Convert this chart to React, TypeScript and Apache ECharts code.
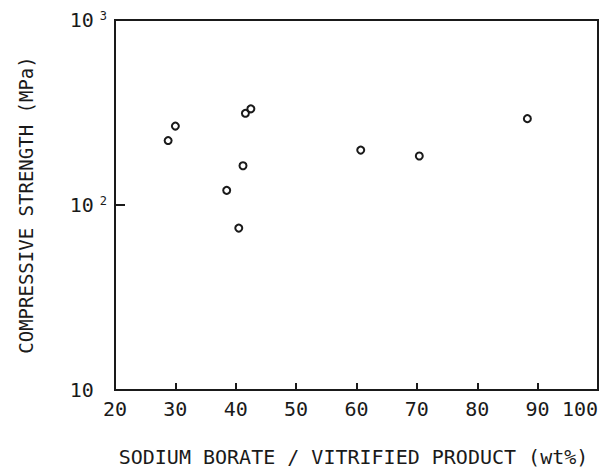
import React, { useEffect, useRef } from "react";
import * as echarts from "echarts";

const ratioWt: number[] = [30.0, 28.8, 41.6, 42.5, 41.2, 38.5, 40.5, 60.7, 70.4, 88.3];
const strengthMPa: number[] = [267, 223, 313, 331, 163, 120, 75, 198, 184, 293];
const xTicks: number[] = [20, 30, 40, 50, 60, 70, 80, 90, 100];
const yTicks: number[] = [10, 100, 1000];
const xTitle = "SODIUM BORATE / VITRIFIED PRODUCT (wt%)";
const yTitle = "COMPRESSIVE STRENGTH (MPa)";

const MONO = "'DejaVu Sans Mono', monospace";
const INK = "#1a1a1a";

export default function App() {
  const ref = useRef<HTMLDivElement>(null);
  useEffect(() => {
    if (!ref.current) return;
    const chart = echarts.init(ref.current, null, { renderer: "svg" });
    const points = ratioWt.map((x, i) => [x, strengthMPa[i]]);
    chart.setOption({
      animation: false,
      backgroundColor: "#ffffff",
      grid: {
        left: 115,
        right: 9,
        top: 20,
        bottom: 85,
        show: true,
        borderColor: INK,
        borderWidth: 2,
        backgroundColor: "transparent",
        containLabel: false,
        outerBoundsMode: "none",
      },
      xAxis: {
        type: "value",
        min: xTicks[0],
        max: xTicks[xTicks.length - 1],
        interval: 10,
        name: xTitle,
        nameLocation: "middle",
        nameGap: 57,
        nameTextStyle: { fontFamily: MONO, fontSize: 20, color: INK, padding: [0, 6, 0, 0] },
        axisLine: { show: true, lineStyle: { color: INK, width: 2 } },
        axisTick: { show: true, inside: true, length: 7, lineStyle: { color: INK, width: 2 } },
        axisLabel: { fontFamily: MONO, fontSize: 20, color: INK, margin: 9, alignMaxLabel: "right" },
        splitLine: { show: false },
      },
      yAxis: {
        type: "log",
        logBase: 10,
        min: yTicks[0],
        max: yTicks[yTicks.length - 1],
        name: yTitle,
        nameLocation: "middle",
        nameGap: 80,
        nameTextStyle: { fontFamily: MONO, fontSize: 19, color: INK },
        axisLine: { show: true, lineStyle: { color: INK, width: 2 } },
        axisTick: { show: true, inside: true, length: 10, lineStyle: { color: INK, width: 2 } },
        minorTick: { show: false },
        splitLine: { show: false },
        axisLabel: {
          margin: 8,
          formatter: (v: number) => {
            const e = Math.round(Math.log10(v));
            return e === 1 ? "{b|10}{h|0}" : "{b|10}{s|" + e + "}";
          },
          rich: {
            b: { fontFamily: MONO, fontSize: 20, color: INK, lineHeight: 20 },
            s: { fontFamily: MONO, fontSize: 12, color: INK, lineHeight: 12, verticalAlign: "top", padding: [0, 0, 0, 6] },
            h: { fontFamily: MONO, fontSize: 12, color: "transparent", lineHeight: 12, verticalAlign: "top", padding: [0, 0, 0, 6] },
          },
        },
      },
      series: [
        {
          type: "scatter",
          data: points,
          symbol: "circle",
          symbolSize: 7,
          itemStyle: { color: "#ffffff", borderColor: INK, borderWidth: 2, opacity: 1 },
        },
      ],
    });
    return () => chart.dispose();
  }, []);
  return (
    <div
      ref={ref}
      style={{ position: "fixed", left: 0, top: 0, width: 607, height: 475, background: "#fff" }}
    />
  );
}
